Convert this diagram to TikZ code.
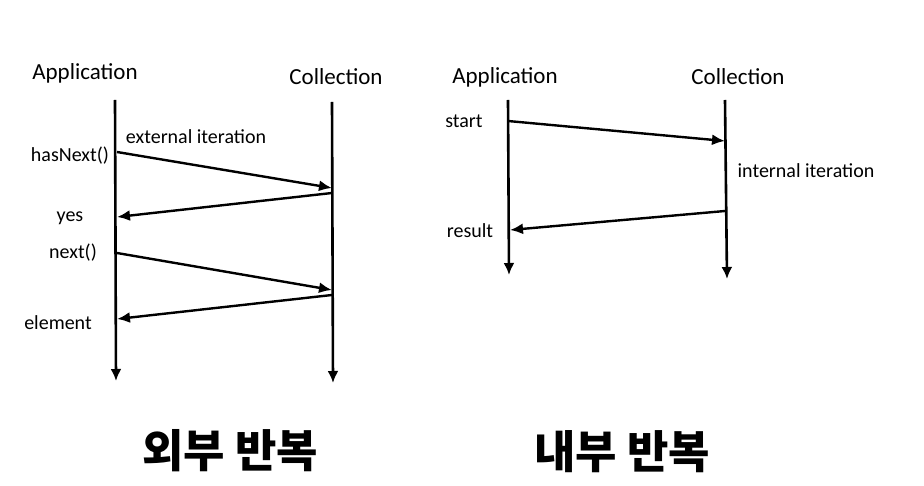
\documentclass[tikz,border=0pt]{standalone}
\usepackage{fontspec}
\setmainfont{Carlito}
\newfontfamily\krfont{Noto Sans CJK KR}
\usetikzlibrary{arrows.meta}
\begin{document}
\begin{tikzpicture}[x=1pt,y=-1pt,
  life/.style={line width=2.6pt,-{Latex[length=12pt,width=11pt]}},
  msg/.style={line width=2.4pt,-{Latex[length=13pt,width=11pt]}},
  head/.style={font=\fontsize{23}{25}\selectfont,inner sep=0pt},
  lbl/.style={font=\fontsize{20}{22}\selectfont,inner sep=0pt},
  title/.style={font=\krfont\bfseries\fontsize{45}{48}\selectfont,inner sep=0pt}]
\useasboundingbox[fill=white] (0,0) rectangle (924,486);
% left diagram
\node[head] (hA1) at (85,73) {Application};
\node[head] (hC1) at (336,77) {Collection};
\coordinate (a1t) at (115,100);
\coordinate (a1b) at (116,381);
\coordinate (c1t) at (332,102);
\coordinate (c1b) at (333,383);
\draw[life] (a1t) -- (a1b);
\draw[life] (c1t) -- (c1b);
\coordinate (m1s) at (117,152); \coordinate (m1e) at (332,188);
\coordinate (m2s) at (332,193); \coordinate (m2e) at (117,217);
\coordinate (m3s) at (117,253); \coordinate (m3e) at (332,290);
\coordinate (m4s) at (332,295); \coordinate (m4e) at (117,319);
\draw[msg] (m1s) -- (m1e);
\draw[msg] (m2s) -- (m2e);
\draw[msg] (m3s) -- (m3e);
\draw[msg] (m4s) -- (m4e);
\node[lbl] (ext) at (196,137) {external iteration};
\node[lbl] (hn) at (70,156) {hasNext()};
\node[lbl] (yes) at (70,218) {yes};
\node[lbl] (nx) at (73,253) {next()};
\node[lbl] (el) at (58,323) {element};
% right diagram
\node[head] (hA2) at (505,77) {Application};
\node[head] (hC2) at (738,77) {Collection};
\coordinate (a2t) at (508,100);
\coordinate (a2b) at (509,275);
\coordinate (c2t) at (725,100);
\coordinate (c2b) at (727,279);
\draw[life] (a2t) -- (a2b);
\draw[life] (c2t) -- (c2b);
\coordinate (n1s) at (508,121); \coordinate (n1e) at (725,141);
\coordinate (n2s) at (725,211); \coordinate (n2e) at (510,230);
\draw[msg] (n1s) -- (n1e);
\draw[msg] (n2s) -- (n2e);
\node[lbl] (st) at (464,121) {start};
\node[lbl] (ii) at (806,171) {internal iteration};
\node[lbl] (rs) at (470,231) {result};
% titles
\node[title] (t1) at (230,451) {외부 반복};
\node[title] (t2) at (622,452) {내부 반복};
\end{tikzpicture}
\end{document}
